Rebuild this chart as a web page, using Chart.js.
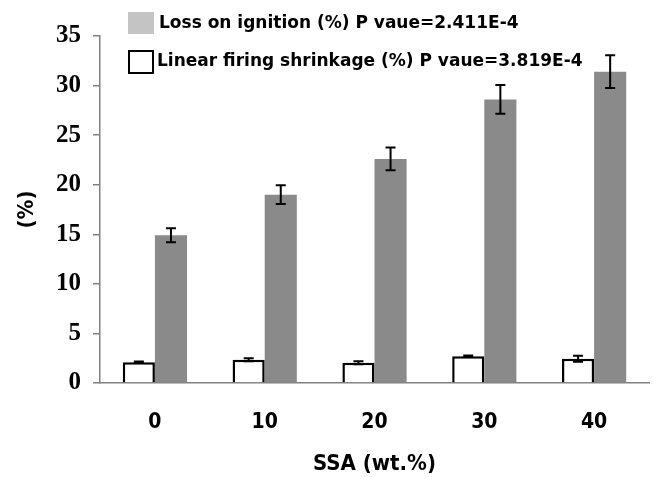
<!DOCTYPE html>
<html>
<head>
<meta charset="utf-8">
<script src="https://cdn.jsdelivr.net/npm/chart.js@4"></script>
<style>
    html, body { margin: 0; padding: 0; background: #fff; }
    #wrap { width: 655px; height: 477px; }
</style>
</head>
<body>
<div id="wrap"><canvas id="ssa-chart" width="655" height="477"></canvas></div>
<script>
// SSA content (wt.%)
const categories = ['0', '10', '20', '30', '40'];

// Linear firing shrinkage (%) and its error
const shrinkage = [2.1, 2.35, 2.05, 2.7, 2.45];
const shrinkageErr = [0.08, 0.15, 0.15, 0.08, 0.3];

// Loss on ignition (%) and its error
const lossOnIgnition = [14.9, 19.0, 22.6, 28.6, 31.4];
const lossErr = [0.7, 0.95, 1.15, 1.45, 1.65];

const yTicks = [0, 5, 10, 15, 20, 25, 30, 35];

const legendLabels = [
    'Loss on ignition (%) P vaue=2.411E-4',
    'Linear firing shrinkage (%) P vaue=3.819E-4'
];

const sansCond = '"DejaVu Sans Condensed", "DejaVu Sans", sans-serif';
const sans = '"DejaVu Sans", sans-serif';

// Error bars drawn on top of each bar
const errorBars = {
    id: 'errorBars',
    afterDatasetsDraw(chart) {
        const ctx = chart.ctx;
        const y = chart.scales.y;
        const errs = [shrinkageErr, lossErr];
        ctx.save();
        ctx.strokeStyle = '#000';
        ctx.lineWidth = 2;
        chart.data.datasets.forEach((ds, i) => {
            const meta = chart.getDatasetMeta(i);
            meta.data.forEach((bar, j) => {
                const v = ds.data[j], e = errs[i][j];
                const top = y.getPixelForValue(v + e);
                const bot = y.getPixelForValue(v - e);
                ctx.beginPath();
                ctx.moveTo(bar.x, top); ctx.lineTo(bar.x, bot);
                ctx.moveTo(bar.x - 5, top); ctx.lineTo(bar.x + 5, top);
                ctx.moveTo(bar.x - 5, bot); ctx.lineTo(bar.x + 5, bot);
                ctx.stroke();
            });
        });
        ctx.restore();
    }
};

// Two-row legend in the upper left of the plot
const boxLegend = {
    id: 'boxLegend',
    afterDraw(chart) {
        const ctx = chart.ctx;
        ctx.save();
        ctx.fillStyle = '#c4c4c4';
        ctx.fillRect(128, 12, 26, 22);
        ctx.strokeStyle = '#000';
        ctx.lineWidth = 2;
        ctx.strokeRect(129, 51, 24, 22);
        ctx.fillStyle = '#000';
        ctx.font = 'bold 17px ' + sans;
        ctx.textBaseline = 'middle';
        ctx.fillText(legendLabels[0], 159, 24);
        ctx.fillText(legendLabels[1], 157, 62);
        ctx.restore();
    }
};

new Chart(document.getElementById('ssa-chart'), {
    type: 'bar',
    data: {
        labels: categories,
        datasets: [
            {
                label: legendLabels[1],
                data: shrinkage,
                backgroundColor: '#ffffff',
                borderColor: '#000000',
                borderWidth: 2.5
            },
            {
                label: legendLabels[0],
                data: lossOnIgnition,
                backgroundColor: '#8a8a8a',
                borderWidth: 0
            }
        ]
    },
    options: {
        responsive: false,
        animation: false,
        layout: { padding: { top: 36, right: 6, left: 0, bottom: 0 } },
        datasets: {
            bar: { barPercentage: 1, categoryPercentage: 0.585 }
        },
        scales: {
            x: {
                grid: { display: false, drawTicks: false },
                border: { color: '#808080', width: 1.5 },
                ticks: {
                    color: '#000',
                    padding: 27,
                    font: { family: sansCond, size: 21, weight: 'bold' }
                },
                title: {
                    display: true,
                    text: 'SSA (wt.%)',
                    color: '#000',
                    padding: { top: 0, bottom: 0 },
                    font: { family: sansCond, size: 22, weight: 'bold' }
                },
                afterFit(scale) { scale.height = 94; }
            },
            y: {
                min: 0,
                max: 35,
                afterBuildTicks(scale) {
                    scale.ticks = yTicks.map(v => ({ value: v }));
                },
                grid: { drawOnChartArea: false, tickLength: 7, color: '#808080', lineWidth: 1.5 },
                border: { color: '#808080', width: 1.5 },
                ticks: {
                    color: '#000',
                    padding: 12,
                    font: { family: '"Liberation Serif", serif', size: 25, weight: 'bold' }
                },
                title: {
                    display: true,
                    text: '(%)',
                    color: '#000',
                    padding: { top: 14, bottom: 0 },
                    font: { family: sansCond, size: 22, weight: 'bold' }
                },
                afterFit(scale) { scale.width = 100; }
            }
        },
        plugins: {
            legend: { display: false },
            tooltip: { enabled: false }
        }
    },
    plugins: [errorBars, boxLegend]
});
</script>
</body>
</html>
